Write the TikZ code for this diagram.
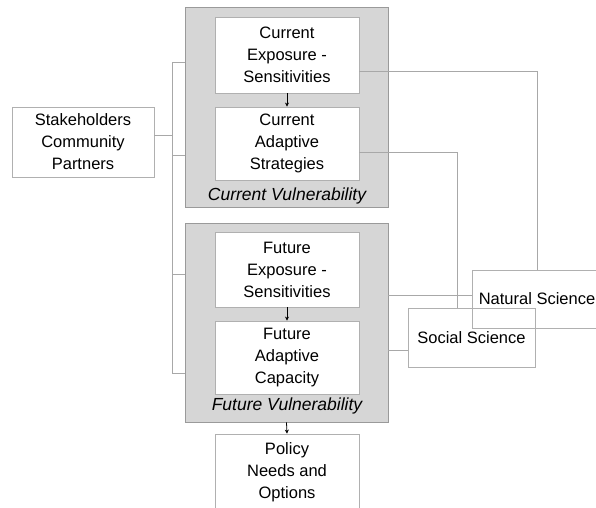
\documentclass[tikz,border=0pt]{standalone}
\usepackage{fontspec}
\setmainfont{Liberation Sans}
\usetikzlibrary{arrows.meta}
\definecolor{panelfill}{HTML}{D6D6D6}
\definecolor{panelline}{HTML}{9A9A9A}
\definecolor{boxline}{HTML}{B0B0B0}
\definecolor{wireline}{HTML}{A8A8A8}
\tikzset{
  panel/.style={draw=panelline, fill=panelfill, line width=0.8pt, rectangle, inner sep=0pt},
  inbox/.style={draw=boxline, fill=white, line width=0.8pt, rectangle, inner sep=0pt, align=center,
    font=\fontsize{16.5}{22}\selectfont, minimum width=144pt},
  outbox/.style={draw=boxline, fill=white, line width=0.7pt, rectangle, inner sep=0pt, align=center,
    font=\fontsize{16.5}{22}\selectfont},
  sciencebox/.style={outbox, fill=none},
  caption/.style={font=\fontsize{17.5}{20}\selectfont\itshape, inner sep=0pt},
  wire/.style={draw=wireline, line width=0.7pt},
  flow/.style={draw=black, line width=0.8pt, -{Stealth[length=4pt,width=4pt]}}
}
\begin{document}
\begin{tikzpicture}[x=1pt,y=-1pt]
\useasboundingbox (0,0) rectangle (596,507);
\fill[white] (0,0) rectangle (596,507);

% panels
\node[panel, minimum width=203pt, minimum height=200pt] (g1) at (286.5,107) {};
\node[panel, minimum width=203pt, minimum height=199pt] (g2) at (286.5,322.5) {};

% inner boxes
\node[inbox, minimum height=76pt] (ce) at (287,55) {Current\\Exposure -\\Sensitivities};
\node[inbox, minimum height=73pt] (ca) at (287,143.5) {Current\\Adaptive\\Strategies};
\node[caption] (cv) at (287,196) {Current Vulnerability};
\node[inbox, minimum height=75pt] (fe) at (287,269.5) {Future\\Exposure -\\Sensitivities};
\node[inbox, minimum height=73pt] (fa) at (287,357.5) {Future\\Adaptive\\Capacity};
\node[caption] (fv) at (287,406) {Future Vulnerability};

% outer boxes
\node[inbox, minimum height=76pt] (pol) at (287,472) {Policy\\Needs and\\Options};
\node[outbox, minimum width=142pt, minimum height=70pt] (stk) at (83,142) {Stakeholders\\Community\\Partners};

% connectors on the left
\coordinate (tA) at (172,62);
\coordinate (tB) at (172,135);
\coordinate (tC) at (172,155);
\coordinate (tD) at (172,274);
\coordinate (tE) at (172,373);
\draw[wire] (tA) -- (tE);
\draw[wire] (tA) -- (tA -| g1.west);
\draw[wire] (tC) -- (tC -| g1.west);
\draw[wire] (tD) -- (tD -| g2.west);
\draw[wire] (tE) -- (tE -| g2.west);
\draw[wire] (stk.east |- tB) -- (tB);

% science boxes (outlines overlap)
\node[sciencebox, minimum width=130pt, minimum height=58pt] (nat) at (537,299) {Natural Science};
\node[sciencebox, minimum width=127pt, minimum height=59pt] (soc) at (471.5,337.5) {Social Science};

% connectors on the right
\coordinate (nA) at (537,71);
\coordinate (sA) at (457,152);
\coordinate (nB) at (472,295);
\coordinate (sB) at (408,350);
\draw[wire] (ce.east |- nA) -- (nA) -- (nA |- nat.north);
\draw[wire] (ca.east |- sA) -- (sA) -- (sA |- soc.north);
\draw[wire] (g2.east |- nB) -- (nat.west |- nB);
\draw[wire] (g2.east |- sB) -- (soc.west |- sB);

% arrows
\draw[flow] (ce.south) -- (ca.north);
\draw[flow] (fe.south) -- (fa.north);
\draw[flow] (g2.south) -- (pol.north);
\end{tikzpicture}
\end{document}
